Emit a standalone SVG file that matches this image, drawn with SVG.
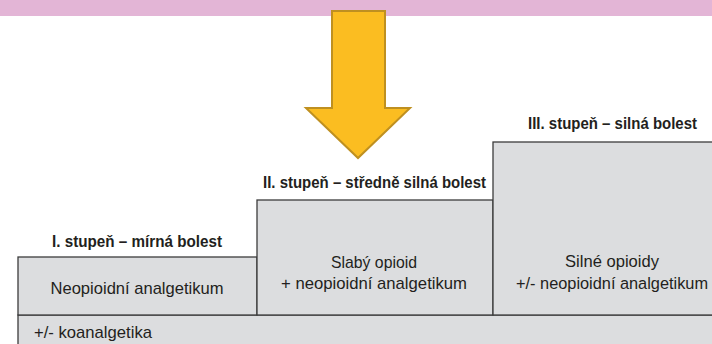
<svg xmlns="http://www.w3.org/2000/svg" width="712" height="344" viewBox="0 0 712 344">
<style>
.box{fill:#dcdddf;stroke:#3c3c3c;stroke-width:1.3}
.h{font-family:"Liberation Sans",Arial,sans-serif;font-size:17px;font-weight:bold;fill:#231f20;text-anchor:middle}
.t{font-family:"Liberation Sans",Arial,sans-serif;font-size:17px;fill:#231f20;text-anchor:middle}
</style>
<rect x="0" y="0" width="712" height="16" fill="#e3b5d6"/>
<g id="arrow">
<polygon points="332,11 385,11 385,108 410,108 358,158 306,108 332,108" fill="#fbbd21" stroke="#bf9020" stroke-width="2" stroke-linejoin="miter"/>
</g>
<g id="base">
<rect class="box" x="18" y="315" width="696" height="32"/>
<text class="t" x="34" y="338" style="text-anchor:start" textLength="118" lengthAdjust="spacingAndGlyphs">+/- koanalgetika</text>
</g>
<g id="step1">
<rect class="box" x="18" y="257" width="239" height="58"/>
<text class="h" x="137" y="247" textLength="170" lengthAdjust="spacingAndGlyphs">I. stupeň – mírná bolest</text>
<text class="t" x="137" y="294" textLength="173" lengthAdjust="spacingAndGlyphs">Neopioidní analgetikum</text>
</g>
<g id="step2">
<rect class="box" x="257" y="200" width="236" height="115"/>
<text class="h" x="374.5" y="188" textLength="223" lengthAdjust="spacingAndGlyphs">II. stupeň – středně silná bolest</text>
<text class="t" x="374" y="268" textLength="86" lengthAdjust="spacingAndGlyphs">Slabý opioid</text>
<text class="t" x="374" y="289" textLength="186" lengthAdjust="spacingAndGlyphs">+ neopioidní analgetikum</text>
</g>
<g id="step3">
<rect class="box" x="493" y="142" width="221" height="173"/>
<text class="h" transform="translate(612.5,129) scale(0.85,1)" x="0" y="0" textLength="198.8" lengthAdjust="spacingAndGlyphs">III. stupeň – silná bolest</text>
<text class="t" x="612" y="267" textLength="94" lengthAdjust="spacingAndGlyphs">Silné opioidy</text>
<text class="t" transform="translate(612,289) scale(0.85,1)" x="0" y="0" textLength="225.9" lengthAdjust="spacingAndGlyphs">+/- neopioidní analgetikum</text>
</g>
</svg>
